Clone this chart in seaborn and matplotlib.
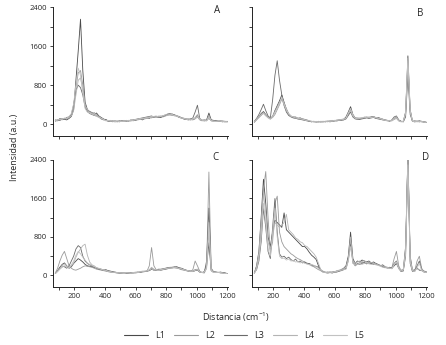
import numpy as np
import pandas as pd
import matplotlib
matplotlib.use("Agg")
import matplotlib.pyplot as plt
import seaborn as sns

# eje x comun (cm-1), un punto cada 15
x_cm = list(range(75, 1201, 15))

series = ["L1", "L2", "L3", "L4", "L5"]
colores = ["#4a4a4a", "#9a9a9a", "#6a6a6a", "#b4b4b4", "#c2c2c2"]

# Panel A
A_L1 = [70, 90, 80, 110, 100, 90, 120, 160, 300, 900,
        1500, 2150, 1100, 450, 300, 260, 240, 200, 230, 170,
        140, 110, 90, 70, 60, 70, 50, 60, 70, 60,
        70, 60, 80, 70, 90, 80, 100, 110, 90, 120,
        130, 120, 150, 140, 160, 150, 140, 160, 180, 190,
        200, 210, 190, 170, 160, 130, 120, 110, 100, 110,
        90, 120, 180, 100, 80, 70, 90, 230, 90, 80,
        70, 60, 70, 60, 50, 60]
A_L2 = [60, 80, 100, 90, 120, 110, 130, 180, 350, 750,
        1050, 1100, 800, 400, 280, 250, 220, 240, 190, 160,
        120, 100, 80, 60, 70, 50, 60, 50, 60, 70,
        60, 70, 60, 80, 70, 90, 90, 100, 110, 110,
        120, 140, 130, 150, 140, 160, 170, 150, 170, 200,
        190, 180, 200, 160, 150, 140, 110, 100, 110, 90,
        100, 110, 150, 90, 70, 80, 70, 180, 70, 60,
        80, 70, 60, 70, 60, 50]
A_L3 = [90, 70, 120, 110, 100, 140, 150, 200, 400, 700,
        800, 750, 600, 350, 260, 220, 200, 180, 170, 150,
        110, 90, 100, 70, 60, 60, 70, 60, 50, 70,
        70, 80, 70, 90, 80, 100, 110, 120, 130, 140,
        150, 160, 170, 150, 160, 140, 150, 170, 190, 210,
        220, 200, 180, 170, 140, 130, 110, 100, 90, 100,
        130, 250, 390, 120, 80, 90, 80, 120, 80, 70,
        70, 60, 60, 50, 60, 50]
A_L4 = [70, 100, 90, 120, 110, 130, 140, 170, 280, 600,
        900, 950, 700, 380, 300, 240, 230, 210, 180, 150,
        130, 100, 80, 70, 80, 60, 60, 70, 60, 60,
        80, 70, 70, 80, 90, 90, 110, 100, 120, 130,
        140, 150, 140, 160, 170, 150, 160, 180, 170, 180,
        210, 190, 170, 180, 150, 120, 130, 100, 110, 90,
        100, 140, 200, 110, 90, 80, 80, 160, 80, 70,
        60, 70, 60, 60, 50, 50]
A_L5 = [80, 80, 110, 100, 130, 120, 160, 220, 420, 800,
        1150, 1000, 650, 320, 250, 230, 210, 190, 160, 140,
        120, 100, 70, 80, 60, 70, 60, 50, 60, 60,
        60, 70, 80, 70, 80, 100, 100, 120, 110, 120,
        130, 130, 160, 150, 150, 170, 160, 170, 200, 190,
        190, 200, 180, 160, 150, 130, 120, 110, 90, 90,
        110, 120, 160, 100, 80, 70, 70, 140, 70, 60,
        60, 60, 70, 50, 60, 60]

# Panel B
B_L1 = [40, 100, 150, 220, 260, 200, 150, 120, 160, 280,
        380, 480, 600, 450, 300, 200, 160, 150, 140, 120,
        130, 110, 100, 80, 60, 60, 50, 50, 60, 50,
        60, 50, 60, 60, 70, 70, 80, 90, 90, 100,
        150, 250, 360, 200, 130, 120, 110, 120, 130, 140,
        140, 150, 160, 130, 140, 120, 100, 90, 80, 70,
        80, 120, 140, 80, 60, 60, 250, 1400, 300, 60,
        50, 60, 70, 60, 50, 40]
B_L2 = [50, 90, 140, 180, 230, 180, 140, 110, 140, 200,
        300, 400, 520, 430, 320, 220, 170, 140, 150, 110,
        110, 100, 90, 90, 70, 50, 60, 50, 50, 60,
        50, 60, 50, 70, 60, 80, 70, 80, 100, 90,
        120, 200, 300, 180, 120, 130, 120, 130, 140, 150,
        130, 140, 150, 140, 120, 110, 110, 80, 70, 80,
        70, 100, 120, 70, 60, 50, 200, 1250, 250, 60,
        60, 50, 60, 50, 50, 40]
B_L3 = [60, 120, 200, 300, 410, 280, 170, 130, 500, 1000,
        1300, 900, 600, 380, 250, 180, 150, 130, 120, 110,
        100, 90, 80, 70, 60, 50, 60, 50, 50, 50,
        50, 60, 60, 50, 60, 70, 70, 80, 80, 90,
        110, 180, 250, 150, 110, 100, 100, 110, 120, 130,
        120, 130, 140, 120, 110, 100, 90, 80, 80, 60,
        90, 150, 170, 90, 60, 50, 150, 1000, 200, 60,
        70, 60, 50, 60, 40, 40]
B_L4 = [50, 110, 160, 200, 240, 190, 140, 120, 170, 260,
        350, 450, 500, 400, 290, 210, 170, 150, 150, 130,
        120, 100, 90, 80, 70, 60, 60, 50, 50, 60,
        60, 60, 70, 70, 80, 70, 90, 80, 100, 110,
        130, 220, 280, 170, 120, 120, 130, 120, 150, 140,
        150, 140, 150, 130, 120, 110, 90, 90, 70, 70,
        80, 130, 150, 70, 50, 60, 220, 1300, 280, 70,
        60, 70, 60, 50, 50, 40]
B_L5 = [40, 90, 130, 190, 220, 170, 130, 100, 150, 240,
        330, 420, 560, 420, 300, 210, 160, 150, 130, 120,
        110, 110, 90, 70, 70, 60, 50, 60, 50, 50,
        50, 50, 60, 60, 60, 80, 80, 90, 90, 100,
        120, 230, 320, 190, 130, 110, 120, 140, 130, 150,
        140, 140, 150, 140, 130, 120, 100, 80, 80, 70,
        70, 110, 130, 80, 50, 60, 230, 1350, 260, 60,
        50, 60, 50, 60, 40, 40]

# Panel C
C_L1 = [40, 100, 170, 230, 260, 200, 150, 180, 250, 300,
        350, 320, 280, 230, 200, 190, 180, 170, 150, 140,
        130, 110, 120, 100, 90, 80, 70, 60, 50, 50,
        40, 50, 60, 50, 60, 60, 70, 60, 80, 80,
        90, 100, 130, 110, 110, 120, 110, 120, 130, 140,
        150, 160, 170, 180, 160, 150, 130, 110, 100, 90,
        80, 100, 110, 70, 60, 80, 200, 680, 100, 70,
        70, 60, 70, 60, 50, 40]
C_L2 = [50, 150, 300, 420, 500, 350, 200, 150, 120, 110,
        130, 150, 180, 200, 190, 180, 170, 150, 130, 120,
        110, 100, 90, 80, 70, 60, 60, 50, 50, 40,
        50, 50, 40, 50, 60, 50, 60, 70, 70, 80,
        90, 200, 580, 200, 120, 110, 120, 130, 140, 160,
        170, 170, 160, 150, 140, 120, 110, 100, 90, 80,
        120, 300, 200, 90, 60, 50, 150, 2150, 120, 60,
        60, 70, 50, 60, 40, 40]
C_L3 = [40, 90, 150, 200, 180, 150, 200, 300, 400, 550,
        620, 580, 400, 300, 250, 220, 200, 170, 160, 130,
        120, 110, 100, 90, 80, 70, 60, 60, 50, 50,
        50, 40, 50, 60, 50, 60, 60, 70, 80, 80,
        90, 110, 150, 120, 120, 130, 130, 140, 150, 160,
        160, 170, 180, 170, 150, 130, 120, 110, 90, 90,
        90, 120, 130, 80, 60, 60, 300, 1400, 150, 80,
        70, 60, 60, 50, 50, 40]
C_L4 = [50, 80, 130, 170, 200, 180, 170, 200, 260, 380,
        480, 550, 620, 650, 420, 280, 220, 200, 160, 140,
        130, 120, 100, 80, 70, 60, 60, 50, 60, 50,
        50, 60, 60, 50, 60, 70, 70, 80, 90, 90,
        100, 120, 170, 130, 120, 110, 120, 130, 140, 150,
        160, 150, 160, 160, 140, 130, 120, 100, 90, 80,
        80, 110, 120, 70, 60, 70, 180, 900, 120, 70,
        70, 60, 60, 50, 40, 40]
C_L5 = [40, 90, 140, 210, 240, 190, 160, 220, 300, 420,
        500, 450, 380, 320, 260, 230, 210, 180, 160, 150,
        130, 110, 110, 90, 80, 70, 70, 60, 50, 50,
        40, 50, 50, 50, 60, 60, 60, 70, 80, 90,
        90, 110, 140, 110, 120, 110, 120, 130, 140, 150,
        150, 160, 170, 160, 150, 140, 120, 110, 100, 90,
        90, 110, 120, 80, 60, 70, 150, 1100, 110, 60,
        60, 60, 60, 50, 40, 40]

# Panel D
D_L1 = [50, 200, 500, 1200, 2000, 1500, 800, 600, 900, 1150,
        1100, 1050, 1000, 1300, 950, 900, 850, 800, 750, 700,
        650, 600, 600, 550, 480, 420, 380, 330, 200, 100,
        80, 60, 70, 60, 70, 80, 90, 100, 120, 150,
        200, 400, 900, 350, 250, 300, 280, 320, 300, 280,
        300, 260, 280, 250, 230, 200, 220, 180, 160, 170,
        150, 200, 250, 150, 100, 120, 600, 2500, 400, 100,
        120, 150, 110, 100, 90, 80]
D_L2 = [40, 150, 400, 1000, 1800, 2160, 1200, 500, 700, 1500,
        1650, 900, 700, 600, 550, 500, 450, 420, 380, 350,
        330, 300, 280, 260, 230, 200, 180, 150, 120, 100,
        80, 70, 60, 70, 60, 70, 80, 90, 110, 130,
        150, 300, 700, 250, 220, 250, 260, 270, 260, 250,
        270, 240, 250, 230, 220, 200, 190, 170, 150, 160,
        160, 350, 500, 200, 100, 90, 500, 2500, 300, 90,
        100, 300, 400, 150, 80, 70]
D_L3 = [60, 120, 300, 700, 1400, 1000, 500, 350, 1000, 1600,
        900, 450, 380, 400, 350, 380, 330, 300, 340, 280,
        300, 260, 280, 240, 250, 220, 200, 190, 170, 120,
        70, 60, 50, 60, 50, 70, 70, 90, 100, 120,
        140, 350, 650, 300, 200, 240, 230, 250, 270, 240,
        260, 250, 230, 240, 220, 210, 180, 160, 170, 150,
        150, 250, 300, 150, 80, 100, 400, 2450, 250, 80,
        90, 200, 300, 120, 70, 60]
D_L4 = [50, 180, 450, 1100, 1700, 1300, 700, 500, 800, 1100,
        1050, 1000, 1050, 1100, 1270, 950, 900, 850, 780, 750,
        700, 680, 620, 600, 550, 500, 450, 380, 250, 120,
        90, 70, 60, 80, 70, 70, 100, 110, 130, 140,
        180, 350, 800, 300, 260, 280, 300, 290, 310, 270,
        280, 270, 260, 240, 220, 210, 200, 190, 170, 150,
        140, 220, 280, 160, 110, 130, 550, 2500, 350, 110,
        110, 140, 120, 100, 80, 70]
D_L5 = [40, 130, 350, 800, 1500, 1100, 550, 400, 900, 1400,
        800, 400, 350, 360, 320, 340, 300, 310, 280, 290,
        260, 280, 250, 240, 220, 230, 210, 180, 150, 110,
        60, 60, 50, 60, 60, 80, 80, 100, 110, 120,
        130, 300, 600, 280, 210, 230, 240, 230, 250, 260,
        240, 230, 240, 220, 210, 190, 170, 170, 160, 150,
        140, 230, 280, 140, 90, 110, 450, 2300, 280, 90,
        80, 160, 250, 110, 70, 60]

paneles = {
    "A": [A_L1, A_L2, A_L3, A_L4, A_L5],
    "B": [B_L1, B_L2, B_L3, B_L4, B_L5],
    "C": [C_L1, C_L2, C_L3, C_L4, C_L5],
    "D": [D_L1, D_L2, D_L3, D_L4, D_L5],
}

sns.set_style("ticks")
plt.rcParams["font.family"] = ["Open Sans", "DejaVu Sans"]
plt.rcParams["mathtext.fontset"] = "custom"
plt.rcParams["mathtext.rm"] = "Open Sans"

W, H = 446, 345
fig = plt.figure(figsize=(W / 100, H / 100), dpi=100)

# posiciones en px: (izq, arriba, der, abajo)
cajas = {
    "A": (53, 7, 228, 136),
    "B": (252, 7, 427, 136),
    "C": (53, 160, 228, 287),
    "D": (252, 160, 427, 287),
}
letras = {"A": (0.937, 0.975), "B": (0.96, 0.95), "C": (0.926, 1.02), "D": (0.99, 1.02)}

for nombre, datos in paneles.items():
    l, t, r, b = cajas[nombre]
    ax = fig.add_axes([l / W, 1 - b / H, (r - l) / W, (b - t) / H])
    df = pd.DataFrame({
        "x": x_cm * 5,
        "y": sum(datos, []),
        "serie": sum([[s] * len(x_cm) for s in series], []),
    })
    sns.lineplot(data=df, x="x", y="y", hue="serie", palette=dict(zip(series, colores)),
                 linewidth=0.6, legend=False, ax=ax)
    ax.set_xlim(60, 1205)
    ax.set_ylim(-240, 2400)
    ax.set_xticks(range(200, 1201, 200))
    ax.set_xticks(range(100, 1201, 100), minor=True)
    ax.set_yticks([0, 800, 1600, 2400])
    ax.set_yticks(range(0, 2401, 400), minor=True)
    ax.tick_params(which="both", direction="out", length=2.5, width=0.6,
                   labelsize=5.5, pad=2, color="#222222")
    ax.set_xlabel("")
    ax.set_ylabel("")
    if nombre in ("A", "B"):
        ax.tick_params(labelbottom=False)
    if nombre in ("B", "D"):
        ax.tick_params(labelleft=False)
    for s in ("top", "right"):
        ax.spines[s].set_visible(False)
    for s in ("left", "bottom"):
        ax.spines[s].set_linewidth(0.7)
        ax.spines[s].set_color("#222222")
    lx, ly = letras[nombre]
    ax.text(lx, ly, nombre, transform=ax.transAxes, ha="center", va="center", fontsize=7)

fig.text(236 / W, 1 - 317 / H, "Distancia (cm$^{-1}$)", ha="center", va="center", fontsize=6.5)
fig.text(15 / W, 1 - 147 / H, "Intensidad (a.u.)", ha="center", va="center",
         rotation=90, fontsize=6.5)

handles = [plt.Line2D([], [], color=c, linewidth=0.8) for c in colores]
fig.legend(handles, series, loc="center", bbox_to_anchor=(244 / W, 1 - 336 / H), ncol=5,
           frameon=False, fontsize=6.5, handlelength=2.6, handletextpad=0.8,
           columnspacing=1.0)

fig.savefig("out.png", dpi=100)
